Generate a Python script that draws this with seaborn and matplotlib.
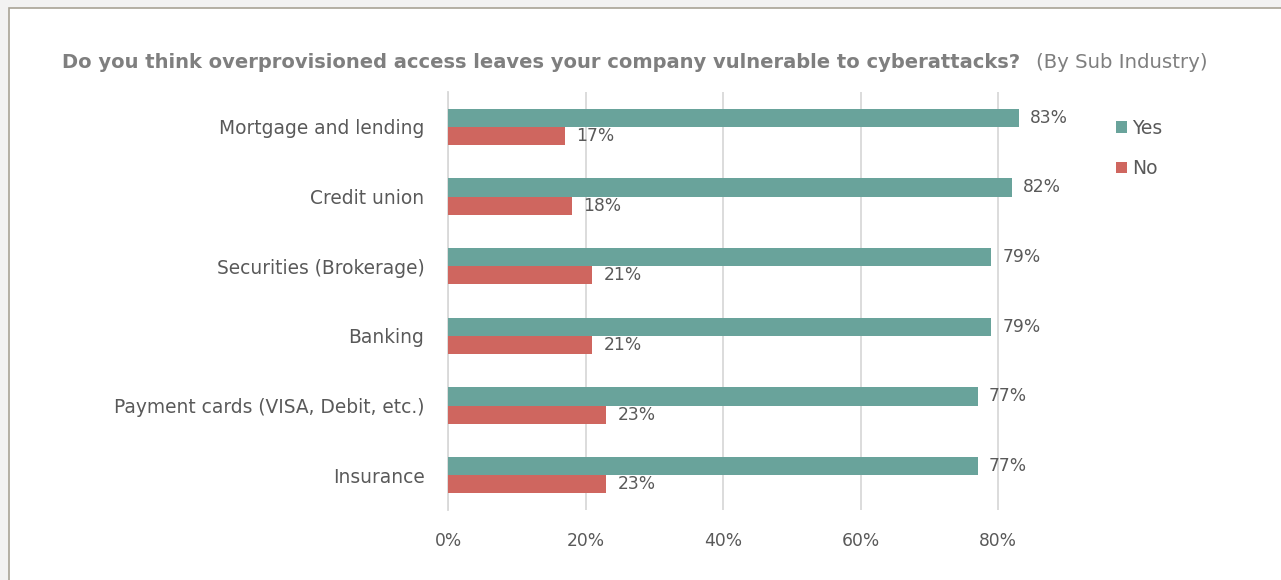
import matplotlib
matplotlib.use("Agg")
import matplotlib.pyplot as plt
from matplotlib.patches import Rectangle
import pandas as pd
import seaborn as sns

# Survey results by sub industry (percent of respondents)
categories = [
    "Mortgage and lending",
    "Credit union",
    "Securities (Brokerage)",
    "Banking",
    "Payment cards (VISA, Debit, etc.)",
    "Insurance",
]
yes_values = [83, 82, 79, 79, 77, 77]
no_values = [17, 18, 21, 21, 23, 23]
series_names = ["Yes", "No"]
x_ticks = [0, 20, 40, 60, 80]

title_main = "Do you think overprovisioned access leaves your company vulnerable to cyberattacks?"
title_sub = "(By Sub Industry)"

colors = {"Yes": "#69a39b", "No": "#cf665f"}
text_color = "#595959"
grid_color = "#d9d9d9"

df = pd.DataFrame({
    "category": categories * 2,
    "answer": [series_names[0]] * len(categories) + [series_names[1]] * len(categories),
    "value": yes_values + no_values,
})

sns.set_theme(style="white")
plt.rcParams["font.family"] = ["DejaVu Sans"]

W, H = 1281, 580
fig = plt.figure(figsize=(W / 100, H / 100), dpi=100)
fig.patch.set_facecolor("#f2f2f2")

# white chart card with a thin border, top-left corner visible
fig.patches.append(Rectangle((9 / W, -0.05), 1, 1.05 - 8 / H, transform=fig.transFigure,
                             facecolor="white", edgecolor="#a8a396", linewidth=1.2,
                             zorder=-1))

ax = fig.add_axes([448 / W, 70 / H, 619 / W, 418 / H])
ax.set_zorder(2)
ax.set_facecolor("none")

sns.barplot(data=df, y="category", x="value", hue="answer", hue_order=series_names,
            palette=colors, orient="h", width=0.52, gap=0, ax=ax,
            saturation=1, edgecolor="none", zorder=3)

for container, vals in zip(ax.containers, [yes_values, no_values]):
    ax.bar_label(container, labels=[f"{v}%" for v in vals], padding=8,
                 fontsize=12.3, color=text_color)

ax.set_xlim(0, 90)
ax.set_xticks(x_ticks)
ax.set_xticklabels([f"{t}%" for t in x_ticks], fontsize=12.3, color=text_color)
ax.tick_params(axis="x", length=0, pad=16)
ax.tick_params(axis="y", length=0, pad=17, labelsize=13.4, labelcolor=text_color)
ax.set_xlabel("")
ax.set_ylabel("")
ax.xaxis.grid(True, color=grid_color, linewidth=1.3, zorder=0)
ax.set_axisbelow(True)
for side in ["top", "right", "bottom"]:
    ax.spines[side].set_visible(False)
ax.spines["left"].set_color(grid_color)
ax.spines["left"].set_linewidth(1.3)

handles, labels = ax.get_legend_handles_labels()
ax.get_legend().remove()
fig.legend(handles, labels, loc="upper left", bbox_to_anchor=(1108 / W, 1 - 111 / H),
           frameon=False, fontsize=13.5, labelcolor=text_color,
           handlelength=0.6, handleheight=0.6, handletextpad=0.3,
           labelspacing=1.15, borderaxespad=0)

t1 = fig.text(62 / W, 1 - 62 / H, title_main, fontsize=14.05, fontweight="bold",
              color="#7f7f7f", va="center", ha="left")
fig.canvas.draw()
bb = t1.get_window_extent()
fig.text((bb.x1 + 16) / W, 1 - 62 / H, title_sub, fontsize=14.2, color="#7f7f7f",
         va="center", ha="left")

fig.savefig("out.png", dpi=100)
